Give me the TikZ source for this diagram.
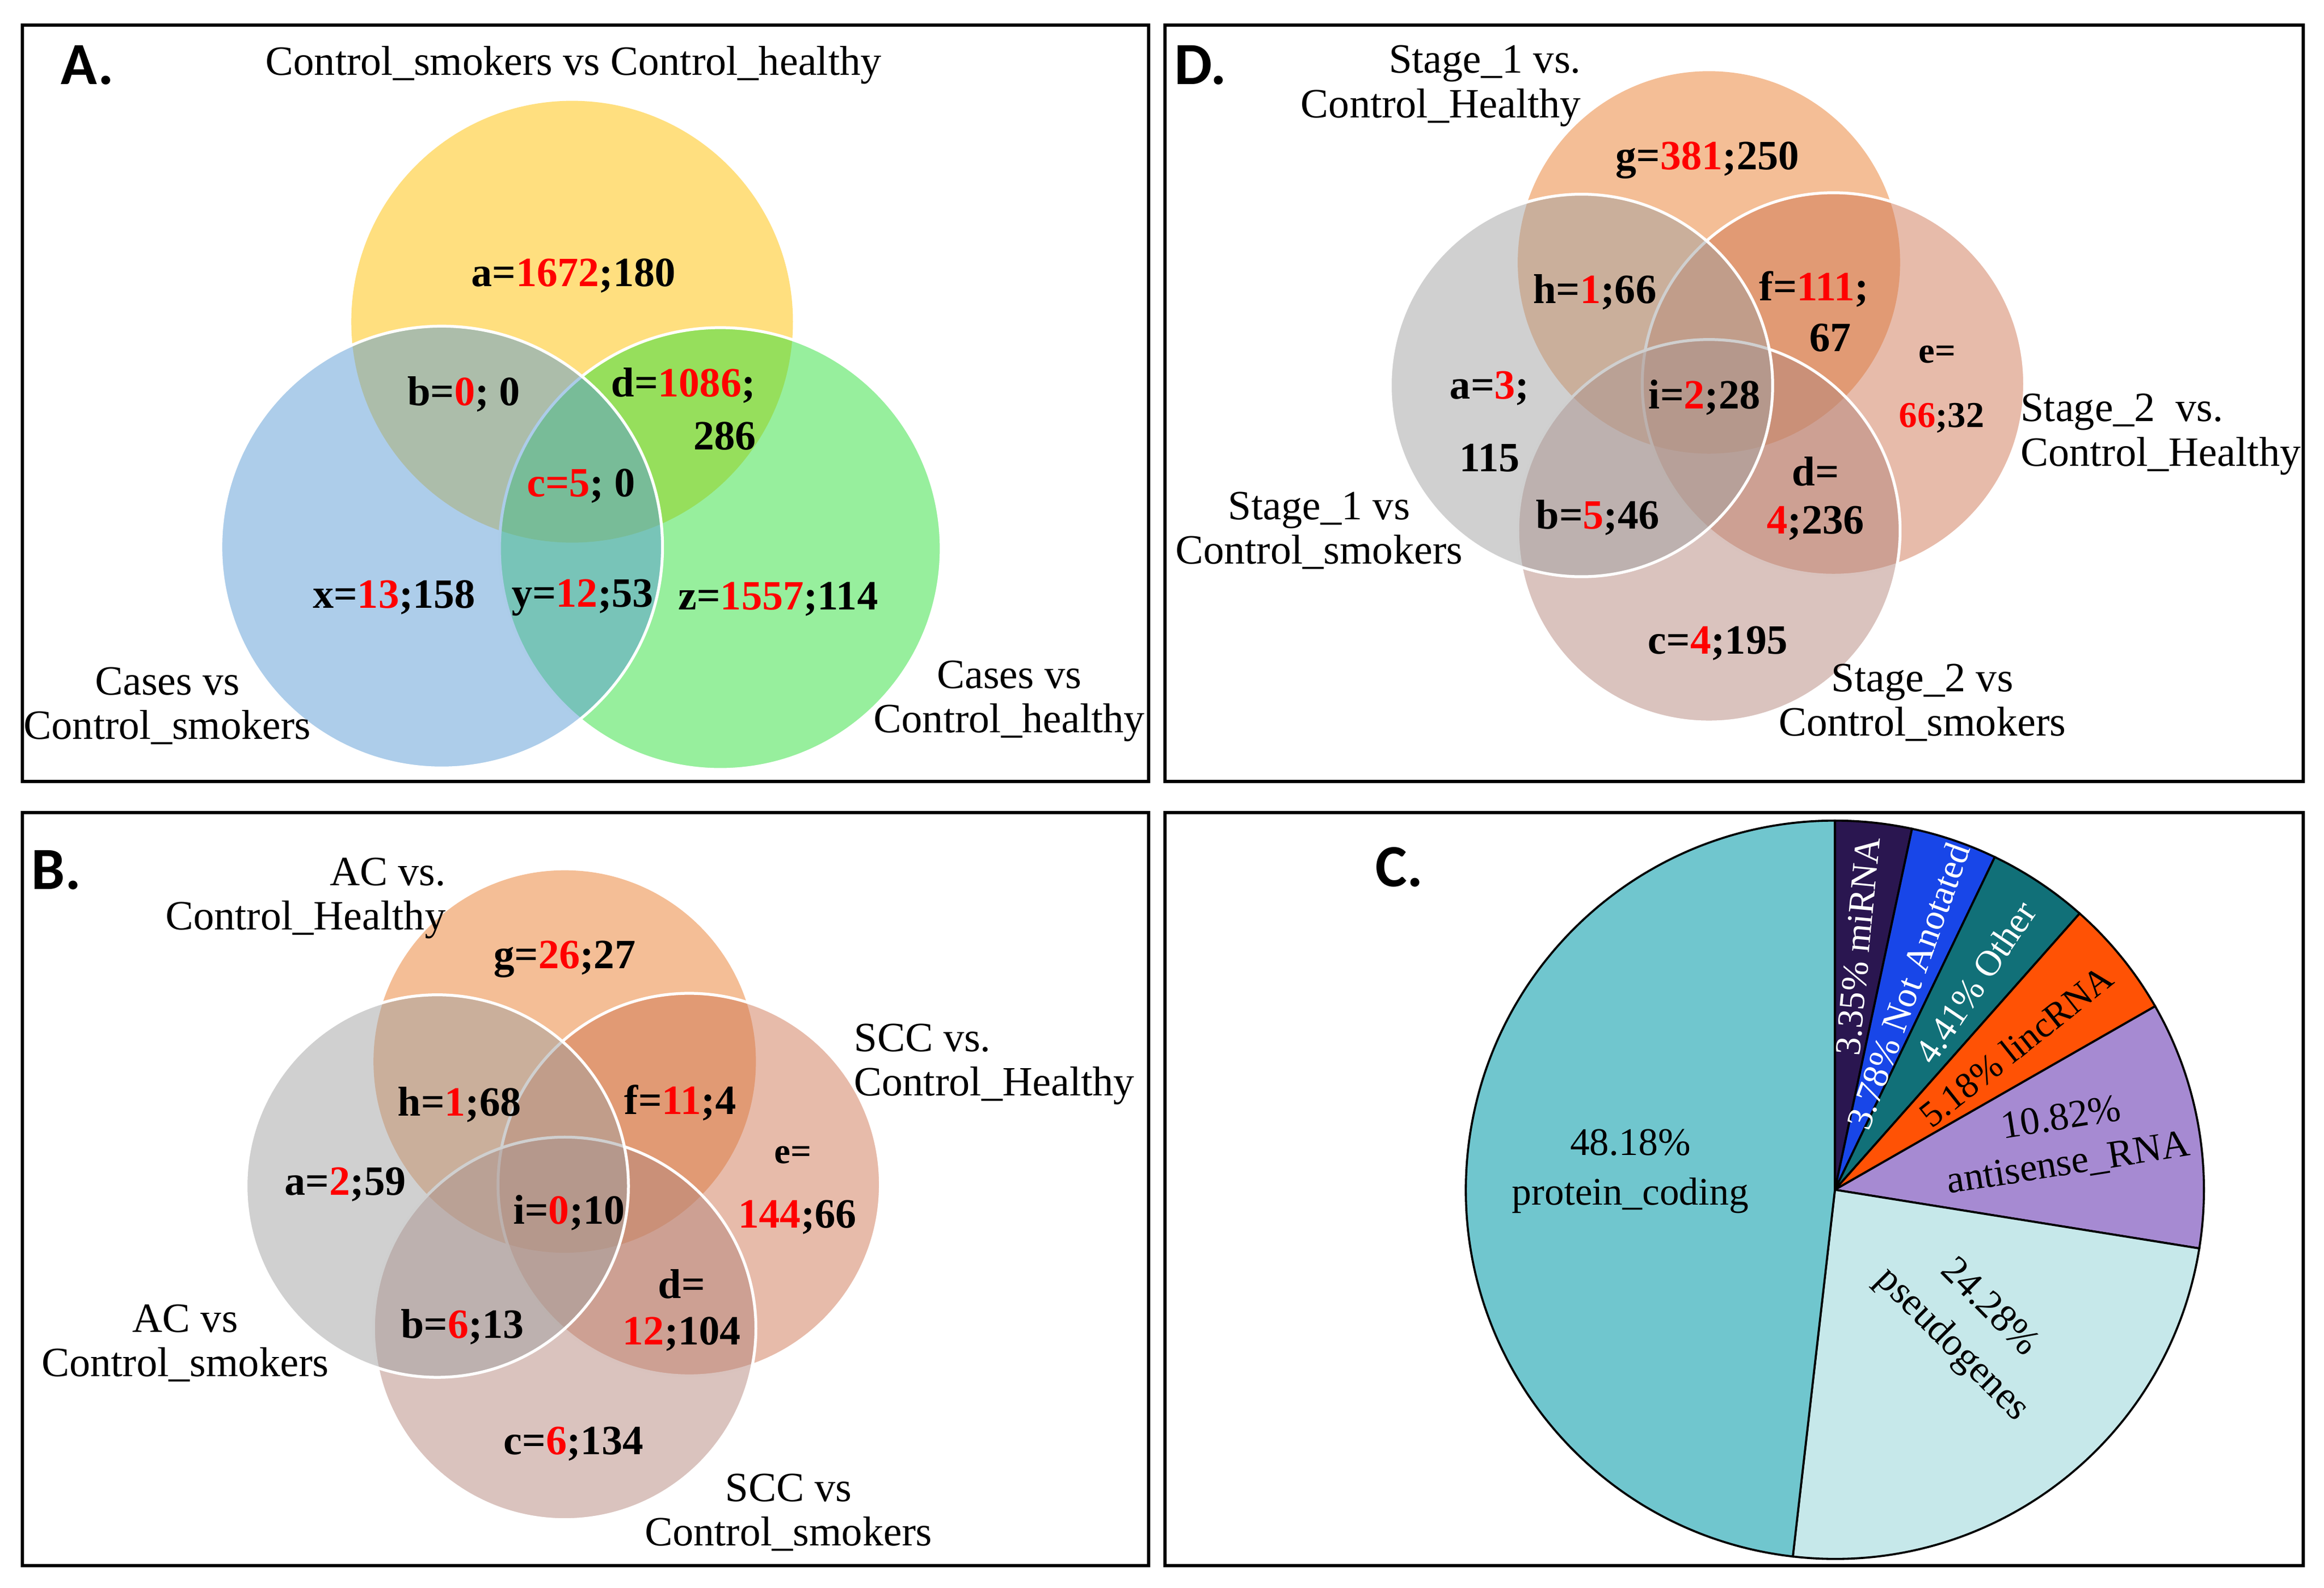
\documentclass[tikz,border=0pt]{standalone}
\usepackage{fontspec}
\setmainfont{Liberation Serif}
\newfontfamily\tagfont{Carlito}

\definecolor{yelA}{RGB}{255,192,0}
\definecolor{bluA}{RGB}{91,155,213}
\definecolor{grnA}{RGB}{47,223,59}
\definecolor{orgV}{RGB}{233,125,45}
\definecolor{salV}{RGB}{207,119,85}
\definecolor{mauV}{RGB}{181,135,125}
\definecolor{gryV}{RGB}{161,161,161}
\definecolor{protC}{RGB}{112,198,206}
\definecolor{pseuC}{RGB}{198,232,234}
\definecolor{antiC}{RGB}{166,138,210}
\definecolor{lincC}{RGB}{255,82,5}
\definecolor{othC}{RGB}{17,112,120}
\definecolor{naC}{RGB}{24,70,232}
\definecolor{miC}{RGB}{42,22,80}

\newcommand{\rednum}[1]{\textcolor{red}{#1}}

\tikzset{
  frame/.style={draw=black, line width=1.2pt},
  tagl/.style={font=\tagfont\bfseries\fontsize{23}{23}\selectfont, inner sep=0},
  setl/.style={font=\fontsize{16}{17}\selectfont, inner sep=0, align=center},
  num/.style={font=\bfseries\fontsize{16}{19}\selectfont, inner sep=0},
  numsm/.style={font=\bfseries\fontsize{14}{17}\selectfont, inner sep=0},
  vset/.style={fill opacity=0.5, draw=white, line width=1.1pt},
  slice/.style={draw=black, line width=0.8pt},
  pielbl/.style={font=\fontsize{15}{19}\selectfont, inner sep=0, align=center},
  thinlbl/.style={font=\fontsize{14}{17}\selectfont, inner sep=0},
}

\begin{document}
\begin{tikzpicture}[x=0.02cm,y=0.02cm]
\useasboundingbox (0,0) rectangle (1568,-1071);

% A: three sets
\draw[frame] (15,-17) rectangle (775,-527);
\node[tagl] (tagA) at (59,-44) {A.};
\node[setl] (A-top) at (387,-44) {Control\_smokers vs Control\_healthy};
\coordinate (A-yc) at (386,-217);
\coordinate (A-gc) at (486,-370);
\coordinate (A-bc) at (298,-369);
\fill[yelA, fill opacity=0.5] (A-yc) circle (149);
\filldraw[vset, fill=grnA] (A-gc) circle (149);
\filldraw[vset, fill=bluA] (A-bc) circle (149);
\node[num] (A-a) at (387,-186) {a=\rednum{1672};180};
\node[num] (A-b) at (313,-266) {b=\rednum{0}; 0};
\node[num] (A-d1) at (461,-260) {d=\rednum{1086};};
\node[num] (A-d2) at (489,-294) {286};
\node[num] (A-c) at (392,-328) {\rednum{c=5}; 0};
\node[num] (A-x) at (266,-403) {x=\rednum{13};158};
\node[num] (A-y) at (393,-403) {y=\rednum{12};53};
\node[num] (A-z) at (525,-404) {z=\rednum{1557};114};
\node[setl] (A-left) at (113,-476) {Cases vs\\Control\_smokers};
\node[setl] (A-right) at (681,-473) {Cases vs\\Control\_healthy};

% D: four sets, stages
\draw[frame] (786,-17) rectangle (1554,-527);
\node[tagl] (tagD) at (810,-44) {D.};
\coordinate (D-top) at (1153,-177);
\coordinate (D-rgt) at (1237,-259);
\coordinate (D-bot) at (1153,-358);
\coordinate (D-lft) at (1067,-260);
\fill[orgV, fill opacity=0.5] (D-top) circle (129);
\filldraw[vset, fill=salV] (D-rgt) circle (129);
\filldraw[vset, fill=mauV] (D-bot) circle (129);
\filldraw[vset, fill=gryV] (D-lft) circle (129);
\node[setl, align=right, anchor=east] (D-s1h) at (1067,-58) {Stage\_1 vs.\\Control\_Healthy};
\node[setl] (D-s1s) at (890,-358) {Stage\_1 vs\\Control\_smokers};
\node[setl, align=left, anchor=west] (D-s2h) at (1363,-293) {Stage\_2\ \ vs.\\Control\_Healthy};
\node[setl] (D-s2s) at (1297,-474) {Stage\_2 vs\\Control\_smokers};
\node[num] (D-g) at (1152,-108) {g=\rednum{381};250};
\node[num] (D-h) at (1076,-197) {h=\rednum{1};66};
\node[num] (D-f1) at (1224,-195) {f=\rednum{111};};
\node[num] (D-f2) at (1235,-228) {67};
\node[numsm] (D-e1) at (1307,-239) {e=};
\node[numsm] (D-e2) at (1310,-282) {\rednum{66};32};
\node[num] (D-i) at (1150,-268) {i=\rednum{2};28};
\node[num] (D-a1) at (1005,-262) {a=\rednum{3};};
\node[num] (D-a2) at (1005,-309) {115};
\node[num] (D-d1) at (1225,-318) {d=};
\node[num] (D-d2) at (1225,-353) {\rednum{4};236};
\node[num] (D-b) at (1078,-349) {b=\rednum{5};46};
\node[num] (D-c) at (1159,-434) {c=\rednum{4};195};

% B: four sets, AC / SCC
\draw[frame] (15,-548) rectangle (775,-1056);
\node[tagl] (tagB) at (38,-587) {B.};
\coordinate (B-top) at (381,-716);
\coordinate (B-rgt) at (465,-799);
\coordinate (B-bot) at (381,-896);
\coordinate (B-lft) at (295,-800);
\fill[orgV, fill opacity=0.5] (B-top) circle (129);
\filldraw[vset, fill=salV] (B-rgt) circle (129);
\filldraw[vset, fill=mauV] (B-bot) circle (129);
\filldraw[vset, fill=gryV] (B-lft) circle (129);
\node[setl, align=right, anchor=east] (B-ach) at (301,-606) {AC vs.\\Control\_Healthy};
\node[setl] (B-acs) at (125,-906) {AC vs\\Control\_smokers};
\node[setl, align=left, anchor=west] (B-scch) at (576,-718) {SCC vs.\\Control\_Healthy};
\node[setl] (B-sccs) at (532,-1020) {SCC vs\\Control\_smokers};
\node[num] (B-g) at (381,-647) {g=\rednum{26};27};
\node[num] (B-h) at (310,-745) {h=\rednum{1};68};
\node[num] (B-f) at (459,-744) {f=\rednum{11};4};
\node[numsm] (B-e1) at (535,-779) {e=};
\node[num] (B-e2) at (538,-821) {\rednum{144};66};
\node[num] (B-a) at (233,-799) {a=\rednum{2};59};
\node[num] (B-i) at (384,-818) {i=\rednum{0};10};
\node[num] (B-d1) at (460,-866) {d=};
\node[num] (B-d2) at (460,-900) {\rednum{12};104};
\node[num] (B-b) at (312,-895) {b=\rednum{6};13};
\node[num] (B-c) at (387,-974) {c=\rednum{6};134};

% C: pie of gene types
\draw[frame] (786,-548) rectangle (1554,-1056);
\node[tagl] (tagC) at (944,-585) {C.};
\coordinate (C-o) at (1238,-802.5);
\filldraw[slice, fill=miC] (C-o) -- ++(90:249) arc[start angle=90, end angle=77.94, radius=249] -- cycle;
\filldraw[slice, fill=naC] (C-o) -- ++(77.94:249) arc[start angle=77.94, end angle=64.33, radius=249] -- cycle;
\filldraw[slice, fill=othC] (C-o) -- ++(64.33:249) arc[start angle=64.33, end angle=48.46, radius=249] -- cycle;
\filldraw[slice, fill=lincC] (C-o) -- ++(48.46:249) arc[start angle=48.46, end angle=29.81, radius=249] -- cycle;
\filldraw[slice, fill=antiC] (C-o) -- ++(29.81:249) arc[start angle=29.81, end angle=-9.14, radius=249] -- cycle;
\filldraw[slice, fill=pseuC] (C-o) -- ++(-9.14:249) arc[start angle=-9.14, end angle=-96.55, radius=249] -- cycle;
\filldraw[slice, fill=protC] (C-o) -- ++(-96.55:249) arc[start angle=-96.55, end angle=-270, radius=249] -- cycle;
\node[pielbl] (C-prot) at (1100,-790) {48.18\%\\protein\_coding};
\node[pielbl, rotate=9, font=\fontsize{15}{17.5}\selectfont] (C-anti) at (1393,-770) {10.82\%\\antisense\_RNA};
\node[pielbl, rotate=-45, font=\fontsize{15}{20}\selectfont] (C-pseu) at (1329,-895) {24.28\%\\pseudogenes};
\node[thinlbl, text=white, rotate=84.6] (C-mi) at ([shift={(84.6:165)}]C-o) {3.35\% miRNA};
\node[thinlbl, text=white, rotate=70.2] (C-na) at ([shift={(70.2:146)}]C-o) {3.78\% Not Anotated};
\node[thinlbl, text=white, rotate=55.9] (C-oth) at ([shift={(55.9:169)}]C-o) {4.41\% Other};
\node[thinlbl, rotate=38.4] (C-linc) at ([shift={(38.4:156)}]C-o) {5.18\% lincRNA};
\end{tikzpicture}
\end{document}
